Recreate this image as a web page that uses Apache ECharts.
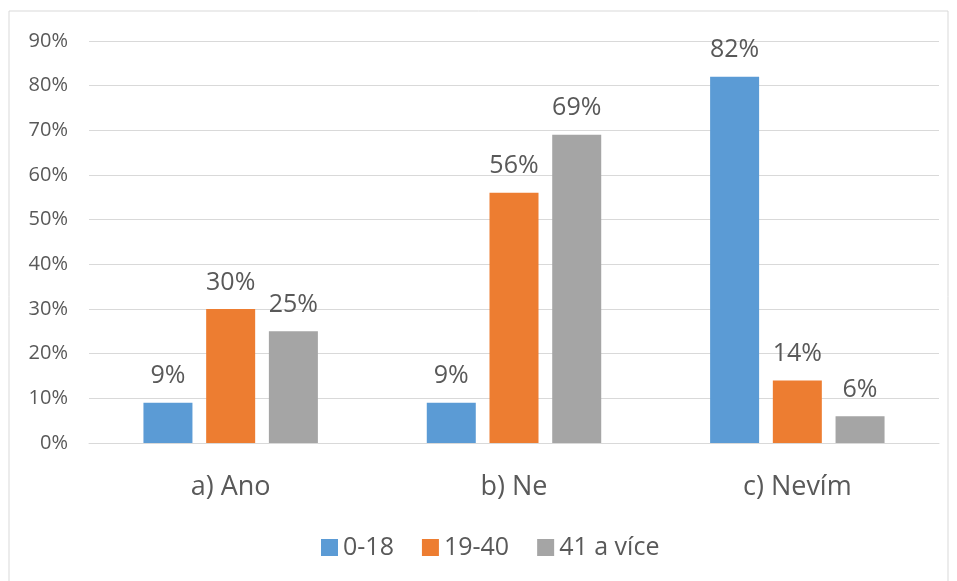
<!DOCTYPE html>
<html>
<head>
<meta charset="utf-8">
<script src="https://cdn.jsdelivr.net/npm/echarts@6/dist/echarts.min.js"></script>
<style>
  html, body { margin: 0; padding: 0; background: #fff; }
  #chart { width: 957px; height: 581px; }
</style>
</head>
<body>
<div id="chart"></div>
<script>
var categories = ['a) Ano', 'b) Ne', 'c) Nevím'];
var seriesNames = ['0-18', '19-40', '41 a více'];
var young = [9, 9, 82];
var middle = [30, 56, 14];
var older = [25, 69, 6];
var colors = ['#5B9BD5', '#ED7D31', '#A5A5A5'];

var fontFam = '"Open Sans", "Noto Sans", sans-serif';
var textColor = '#595959';

function makeSeries(name, data, color) {
    return {
        name: name,
        type: 'bar',
        data: data,
        barWidth: 49,
        barGap: '28%',
        itemStyle: { color: color },
        label: {
            show: true,
            position: 'top',
            distance: 14,
            formatter: '{c}%',
            color: textColor,
            fontSize: 25,
            fontFamily: fontFam
        }
    };
}

var myChart = echarts.init(document.getElementById('chart'));
var option = {
    animation: false,
    color: colors,
    graphic: [{
        type: 'rect',
        shape: { x: 9, y: 11, width: 939, height: 580 },
        style: { fill: 'none', stroke: '#D9D9D9', lineWidth: 1 },
        silent: true
    }],
    grid: { left: 89, right: 18, top: 41, bottom: 138 },
    legend: {
        bottom: 16,
        left: 316,
        itemWidth: 17,
        itemHeight: 17,
        itemGap: 28,
        icon: 'rect',
        data: seriesNames,
        textStyle: { color: textColor, fontSize: 25, fontFamily: fontFam }
    },
    xAxis: {
        type: 'category',
        data: categories,
        axisLine: { lineStyle: { color: '#D9D9D9' } },
        axisTick: { show: false },
        axisLabel: { color: textColor, fontSize: 27, fontFamily: fontFam, margin: 31 }
    },
    yAxis: {
        type: 'value',
        min: 0,
        max: 90,
        interval: 10,
        axisLine: { show: false },
        axisTick: { show: false },
        splitLine: { lineStyle: { color: '#D9D9D9', width: 1 } },
        axisLabel: {
            formatter: '{value}%',
            color: textColor,
            fontSize: 20,
            fontFamily: fontFam,
            margin: 21
        }
    },
    series: [
        makeSeries(seriesNames[0], young, colors[0]),
        makeSeries(seriesNames[1], middle, colors[1]),
        makeSeries(seriesNames[2], older, colors[2])
    ]
};
myChart.setOption(option);
</script>
</body>
</html>
